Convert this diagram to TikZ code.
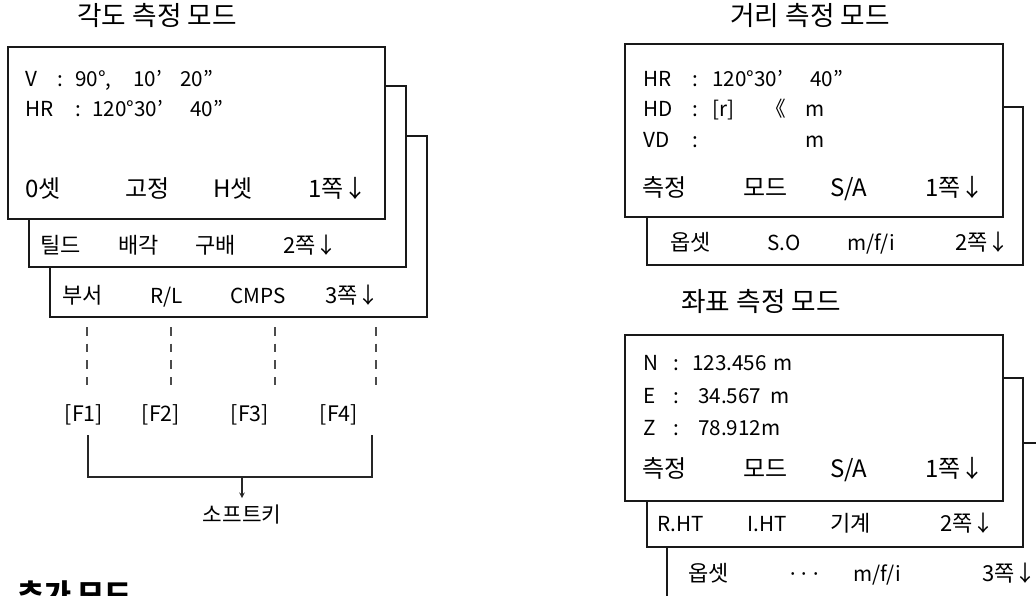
\documentclass[tikz,border=0pt]{standalone}
\usepackage{fontspec}
\setmainfont{Noto Sans CJK KR}
\begin{document}
\begin{tikzpicture}[x=0.75pt,y=-0.75pt,
  panel/.style={draw=black!90,fill=white,line width=0.8pt},
  lat/.style={anchor=base west,inner sep=0pt,font=\fontsize{15.5}{18}\selectfont},
  kor/.style={anchor=base west,inner sep=0pt,font=\fontsize{16.5}{19}\selectfont},
  korL/.style={anchor=base west,inner sep=0pt,font=\fontsize{18}{21}\selectfont},
  fkey/.style={anchor=base,inner sep=0pt,font=\fontsize{16}{19}\selectfont},
  ttl/.style={anchor=base,inner sep=0pt,font=\fontsize{20}{24}\selectfont},
  dsh/.style={draw=black!70,line width=0.8pt,dash pattern=on 6.5pt off 6pt},
  conn/.style={draw=black!85,line width=0.8pt},
]
\useasboundingbox (0,0) rectangle (1036,596);
\clip (0,0) rectangle (1036,596);

% ---------------- Left: angle measurement mode
\node[ttl] (tA) at (157,25.5) {각도 측정 모드};
\draw[panel] (50,136) rectangle (427,317);
\draw[panel] (29,86) rectangle (406,267);
\draw[panel] (8,47) rectangle (385,219);

\node[lat] (a1) at (25,86) {V};
\node[lat] (a2) at (57,86) {:};
\node[lat] (a3) at (75,86) {90°,};
\node[lat] (a4) at (133,86) {10’};
\node[lat] (a5) at (180,86) {20”};
\node[lat] (a6) at (25,116.7) {HR};
\node[lat] (a7) at (75,116.7) {:};
\node[lat] (a8) at (92,116.7) {120°30’};
\node[lat] (a9) at (190,116.7) {40”};

\node[korL] (ar1) at (25,197) {0셋};
\node[korL] (ar2) at (125,197) {고정};
\node[korL] (ar3) at (213,197) {H셋};
\node[korL] (ar4) at (308,197) {1쪽↓};

\node[kor] (as1) at (40,253) {틸드};
\node[kor] (as2) at (118,253) {배각};
\node[kor] (as3) at (195,253) {구배};
\node[kor] (as4) at (283,253) {2쪽↓};

\node[kor] (at1) at (62,303) {부서};
\node[lat] (at2) at (150,303) {R/L};
\node[lat] (at3) at (230,303) {CMPS};
\node[kor] (at4) at (325,303) {3쪽↓};

\coordinate (d1a) at (87,327); \coordinate (d1b) at (87,385);
\coordinate (d2a) at (171,327); \coordinate (d2b) at (171,385);
\coordinate (d3a) at (275,327); \coordinate (d3b) at (275,385);
\coordinate (d4a) at (376,327); \coordinate (d4b) at (376,385);
\draw[dsh] (d1a) -- (d1b);
\draw[dsh] (d2a) -- (d2b);
\draw[dsh] (d3a) -- (d3b);
\draw[dsh] (d4a) -- (d4b);

\node[fkey] (F1) at (84,421) {[F1]};
\node[fkey] (F2) at (161,421) {[F2]};
\node[fkey] (F3) at (250,421) {[F3]};
\node[fkey] (F4) at (339,421) {[F4]};

\node[anchor=base,inner sep=0pt,font=\fontsize{16}{19}\selectfont] (sk) at (242,522) {소프트키};
\coordinate (b1) at (88,435);
\coordinate (b2) at (372,435);
\coordinate (bm) at (242,477);
\draw[conn] (b1) -- (88,477) -- (372,477) -- (b2);
\draw[conn,-stealth] (bm) -- (242,498);

\node[anchor=base west,inner sep=0pt,font=\fontsize{22}{26}\selectfont\bfseries] (add) at (17,605) {추가 모드};

% ---------------- Right top: distance measurement mode
\node[ttl] (tD) at (810,25.5) {거리 측정 모드};
\draw[panel] (647,107) rectangle (1023,265);
\draw[panel] (625,44) rectangle (1003,217);

\node[lat] (b11) at (643,86) {HR};
\node[lat] (b12) at (692,86) {:};
\node[lat] (b13) at (712,86) {120°30’};
\node[lat] (b14) at (810,86) {40”};
\node[lat] (b21) at (643,116.7) {HD};
\node[lat] (b22) at (692,116.7) {:};
\node[lat] (b23) at (712,116.7) {[r]};
\node[lat] (b24) at (765,116.7) {《};
\node[lat] (b25) at (805,116.7) {m};
\node[lat] (b31) at (643,147.7) {VD};
\node[lat] (b32) at (692,147.7) {:};
\node[lat] (b35) at (805,147.7) {m};

\node[korL] (br1) at (642,196.7) {측정};
\node[korL] (br2) at (743,196.7) {모드};
\node[korL] (br3) at (830,196.7) {S/A};
\node[korL] (br4) at (925,196.7) {1쪽↓};

\node[kor] (bs1) at (670,250) {옵셋};
\node[lat] (bs2) at (767,250) {S.O};
\node[lat] (bs3) at (847,250) {m/f/i};
\node[kor] (bs4) at (955,250) {2쪽↓};

% ---------------- Right bottom: coordinate measurement mode
\node[ttl] (tC) at (761,311.5) {좌표 측정 모드};
\draw[panel] (667,443) rectangle (1080,640);
\draw[panel] (647,378) rectangle (1023,547);
\draw[panel] (625,335) rectangle (1003,501);

\node[lat] (c11) at (643,370.7) {N};
\node[lat] (c12) at (673,370.7) {:};
\node[lat] (c13) at (692,370.7) {123.456};
\node[lat] (c14) at (773,370.7) {m};
\node[lat] (c21) at (643,403.3) {E};
\node[lat] (c22) at (673,403.3) {:};
\node[lat] (c23) at (698,403.3) {34.567};
\node[lat] (c24) at (770,403.3) {m};
\node[lat] (c31) at (643,435) {Z};
\node[lat] (c32) at (673,435) {:};
\node[lat] (c33) at (698,435) {78.912m};

\node[korL] (cr1) at (642,477.3) {측정};
\node[korL] (cr2) at (743,477.3) {모드};
\node[korL] (cr3) at (830,477.3) {S/A};
\node[korL] (cr4) at (925,477.3) {1쪽↓};

\node[lat] (cs1) at (657,531.7) {R.HT};
\node[lat] (cs2) at (747,531.7) {I.HT};
\node[kor] (cs3) at (830,531.7) {기계};
\node[kor] (cs4) at (940,531.7) {2쪽↓};

\node[kor] (ct1) at (688,581.7) {옵셋};
\node[lat] (ct2) at (787,581.7) {···};
\node[lat] (ct3) at (853,581.7) {m/f/i};
\node[kor] (ct4) at (982,581.7) {3쪽↓};
\end{tikzpicture}
\end{document}
